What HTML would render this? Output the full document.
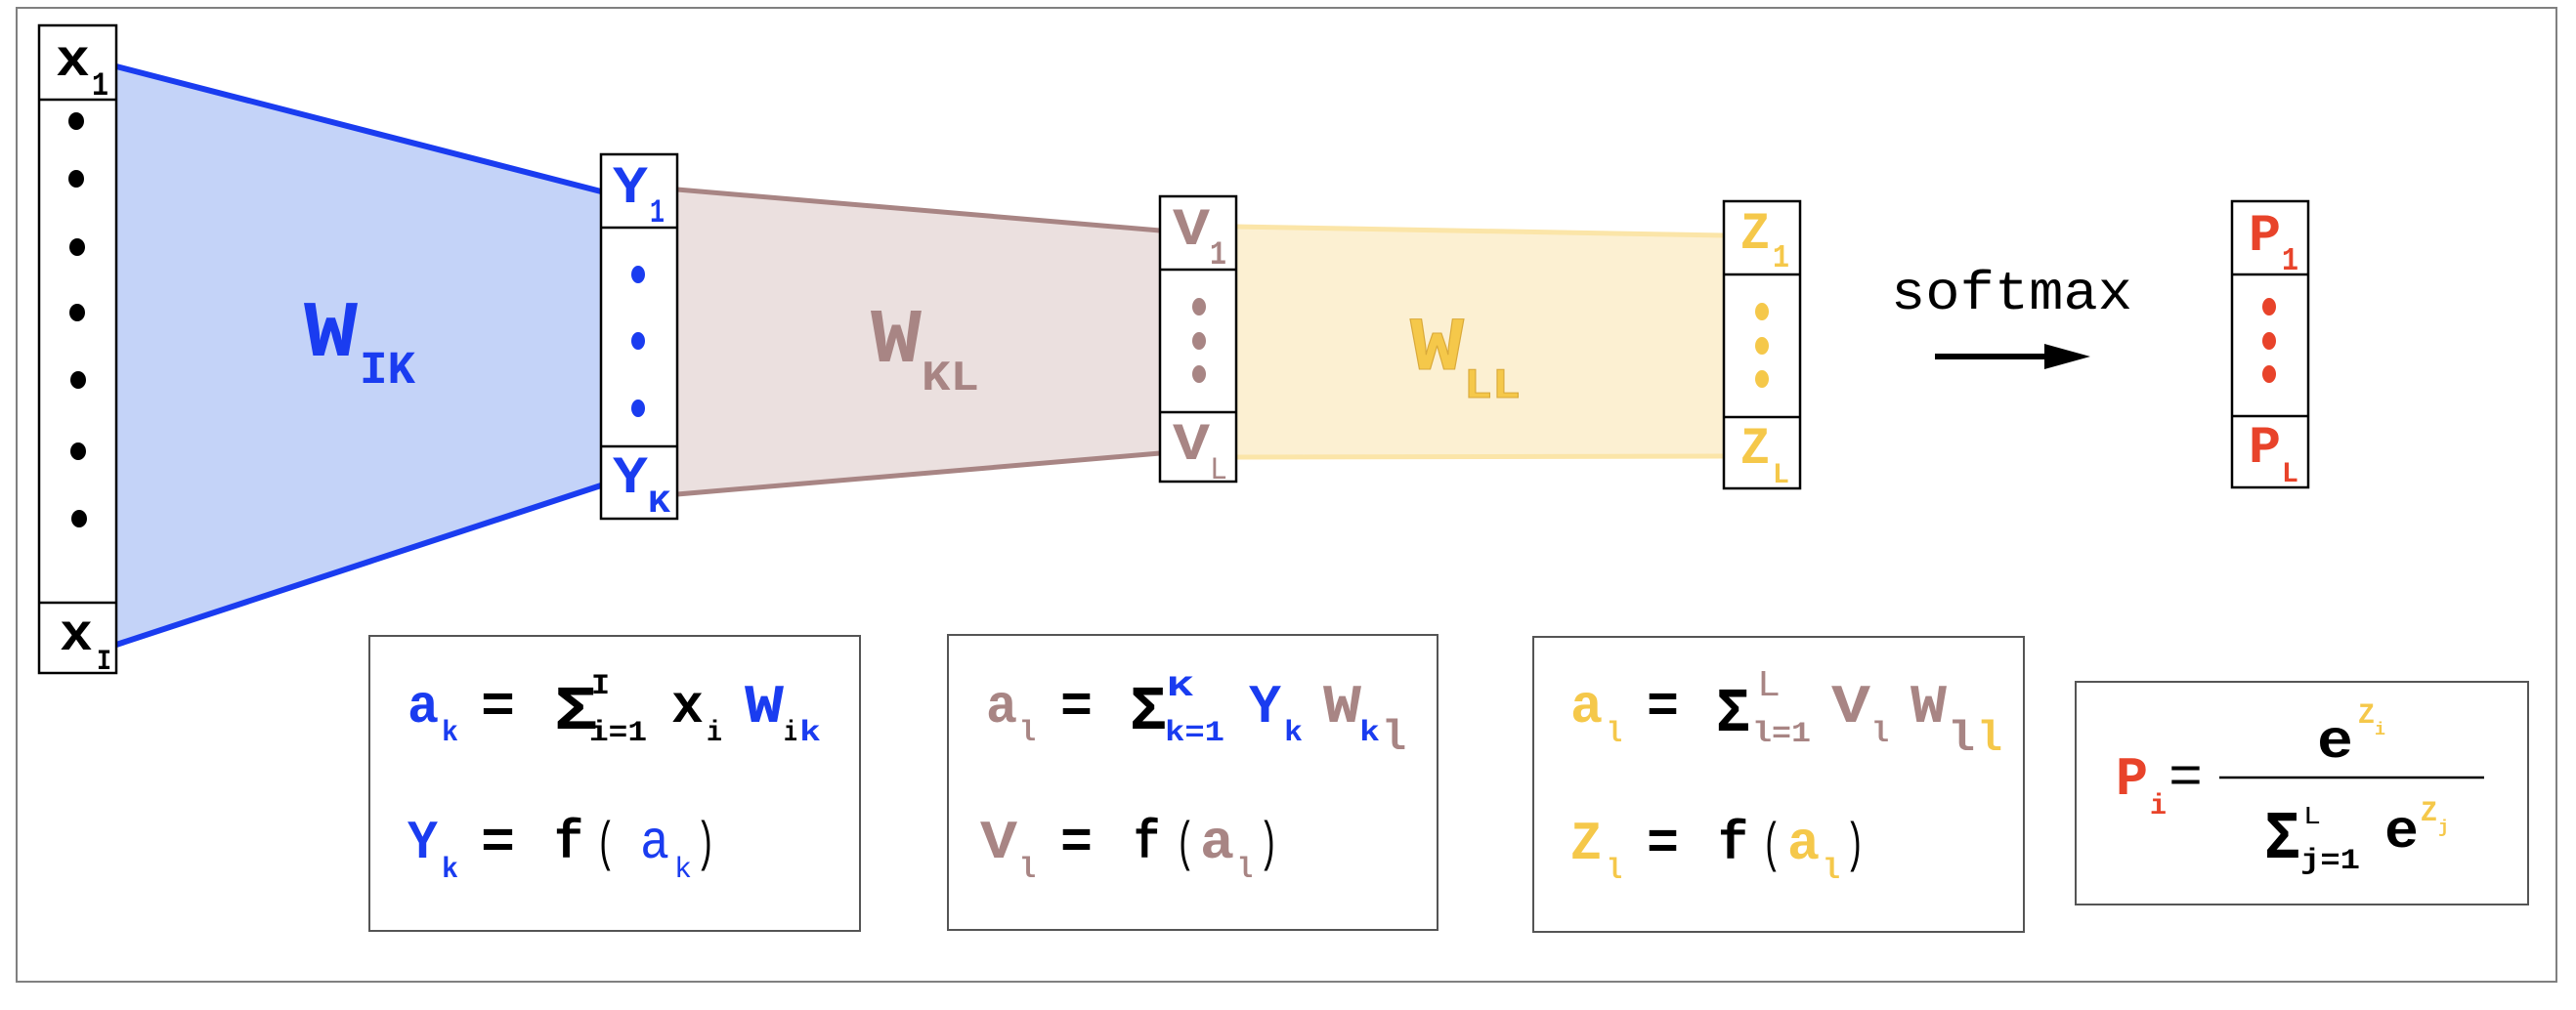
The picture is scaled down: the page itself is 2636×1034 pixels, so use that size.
<!DOCTYPE html>
<html><head><meta charset="utf-8"><style>
html,body{margin:0;padding:0;background:#fff;}
svg{display:block;}
text{font-family:"Liberation Mono","DejaVu Sans Mono",monospace;font-weight:bold;}
.n{font-weight:normal;}
</style></head><body>
<svg width="2636" height="1034" viewBox="0 0 2636 1034" xmlns="http://www.w3.org/2000/svg">
<rect x="17" y="8" width="2599" height="997" fill="#fff" stroke="#808080" stroke-width="2"/>

<!-- blue trapezoid -->
<polygon points="119,68 615,196 615,497 119,660" fill="#c4d3f8"/>
<line x1="119" y1="68" x2="615" y2="196" stroke="#1a3cf0" stroke-width="6"/>
<line x1="119" y1="660" x2="615" y2="497" stroke="#1a3cf0" stroke-width="6"/>
<!-- mauve trapezoid -->
<polygon points="693,194 1187,236 1187,464 693,506" fill="#ebe0df"/>
<line x1="693" y1="194" x2="1187" y2="236" stroke="#a88584" stroke-width="5"/>
<line x1="693" y1="506" x2="1187" y2="464" stroke="#a88584" stroke-width="5"/>
<!-- yellow band -->
<polygon points="1265,232 1764,241 1764,467 1265,468" fill="#fcf0d2"/>
<line x1="1265" y1="232" x2="1764" y2="241" stroke="#fbe5a8" stroke-width="5"/>
<line x1="1265" y1="468" x2="1764" y2="467" stroke="#fbe5a8" stroke-width="5"/>

<!-- x column -->
<g stroke="#000" stroke-width="2.5" fill="#fff">
<rect x="40" y="26" width="79" height="663"/>
<line x1="40" y1="102" x2="119" y2="102"/>
<line x1="40" y1="617" x2="119" y2="617"/>
<rect x="615" y="158" width="78" height="373"/>
<line x1="615" y1="233" x2="693" y2="233"/>
<line x1="615" y1="457" x2="693" y2="457"/>
<rect x="1187" y="201" width="78" height="292"/>
<line x1="1187" y1="276" x2="1265" y2="276"/>
<line x1="1187" y1="422" x2="1265" y2="422"/>
<rect x="1764" y="206" width="78" height="294"/>
<line x1="1764" y1="281" x2="1842" y2="281"/>
<line x1="1764" y1="427" x2="1842" y2="427"/>
<rect x="2284" y="206" width="78" height="293"/>
<line x1="2284" y1="281" x2="2362" y2="281"/>
<line x1="2284" y1="426" x2="2362" y2="426"/>
</g>
<g fill="#000">
<ellipse cx="78" cy="124" rx="8" ry="9"/><ellipse cx="78" cy="183" rx="8" ry="9"/>
<ellipse cx="79" cy="253" rx="8" ry="9"/><ellipse cx="79" cy="320" rx="8" ry="9"/>
<ellipse cx="80" cy="389" rx="8" ry="9"/><ellipse cx="80" cy="462" rx="8" ry="9"/>
<ellipse cx="81" cy="531" rx="8" ry="9"/>
</g>
<g fill="#1a3cf0"><ellipse cx="653" cy="281" rx="7" ry="9"/><ellipse cx="653" cy="349" rx="7" ry="9"/><ellipse cx="653" cy="418" rx="7" ry="9"/></g>
<g fill="#a88584"><ellipse cx="1227" cy="314" rx="7" ry="9"/><ellipse cx="1227" cy="349" rx="7" ry="9"/><ellipse cx="1227" cy="383" rx="7" ry="9"/></g>
<g fill="#f5c84a"><ellipse cx="1803" cy="319" rx="7" ry="9"/><ellipse cx="1803" cy="354" rx="7" ry="9"/><ellipse cx="1803" cy="388" rx="7" ry="9"/></g>
<g fill="#e8432a"><ellipse cx="2322" cy="314" rx="7" ry="9"/><ellipse cx="2322" cy="349" rx="7" ry="9"/><ellipse cx="2322" cy="383" rx="7" ry="9"/></g>

<!-- column labels -->
<text x="57" y="77" font-size="54" textLength="35" lengthAdjust="spacingAndGlyphs">x</text>
<text x="94" y="97" font-size="34" textLength="17" lengthAdjust="spacingAndGlyphs">1</text>
<text x="61" y="665" font-size="54" textLength="34" lengthAdjust="spacingAndGlyphs">x</text>
<text x="99" y="685" font-size="30" textLength="15" lengthAdjust="spacingAndGlyphs">I</text>

<g fill="#1a3cf0">
<text x="627" y="207" font-size="54" textLength="36" lengthAdjust="spacingAndGlyphs">Y</text>
<text x="665" y="227" font-size="34" textLength="15" lengthAdjust="spacingAndGlyphs">1</text>
<text x="627" y="504" font-size="54" textLength="36" lengthAdjust="spacingAndGlyphs">Y</text>
<text x="663" y="524" font-size="32" textLength="23" lengthAdjust="spacingAndGlyphs">K</text>
<text x="311" y="364" font-size="82" textLength="55" lengthAdjust="spacingAndGlyphs">W</text>
<text x="368" y="392" font-size="47" textLength="57" lengthAdjust="spacingAndGlyphs">IK</text>
</g>
<g fill="#a88584">
<text x="1200" y="250" font-size="54" textLength="38" lengthAdjust="spacingAndGlyphs">V</text>
<text x="1238" y="270" font-size="34" textLength="17" lengthAdjust="spacingAndGlyphs">1</text>
<text x="1200" y="470" font-size="54" textLength="38" lengthAdjust="spacingAndGlyphs">V</text>
<text x="1238" y="490" font-size="32" textLength="18" lengthAdjust="spacingAndGlyphs" class="n">L</text>
<text x="891" y="370" font-size="79" textLength="52" lengthAdjust="spacingAndGlyphs">W</text>
<text x="943" y="399" font-size="44" textLength="59" lengthAdjust="spacingAndGlyphs">KL</text>
</g>
<g fill="#f5c84a">
<text x="1781" y="254" font-size="54" textLength="30" lengthAdjust="spacingAndGlyphs">Z</text>
<text x="1814" y="273" font-size="33" textLength="17" lengthAdjust="spacingAndGlyphs">1</text>
<text x="1781" y="474" font-size="54" textLength="30" lengthAdjust="spacingAndGlyphs">Z</text>
<text x="1814" y="494" font-size="30" textLength="17" lengthAdjust="spacingAndGlyphs">L</text>
<text x="1443" y="378" font-size="78" textLength="55" lengthAdjust="spacingAndGlyphs" stroke="#d9a93a" stroke-width="1">W</text>
<text x="1498" y="407" font-size="44" textLength="58" lengthAdjust="spacingAndGlyphs" stroke="#d9a93a" stroke-width="1">LL</text>
</g>
<g fill="#e8432a">
<text x="2301" y="256" font-size="54" textLength="33" lengthAdjust="spacingAndGlyphs">P</text>
<text x="2335" y="276" font-size="33" textLength="17" lengthAdjust="spacingAndGlyphs">1</text>
<text x="2301" y="473" font-size="54" textLength="33" lengthAdjust="spacingAndGlyphs">P</text>
<text x="2335" y="493" font-size="30" textLength="17" lengthAdjust="spacingAndGlyphs">L</text>
</g>

<!-- softmax arrow -->
<text x="1935" y="316" font-size="56" class="n" textLength="247" lengthAdjust="spacingAndGlyphs">softmax</text>
<line x1="1980" y1="365" x2="2095" y2="365" stroke="#000" stroke-width="6"/>
<polygon points="2092,352 2139,365 2092,378" fill="#000"/>

<!-- formula boxes -->
<g fill="#fff" stroke="#555" stroke-width="2">
<rect x="378" y="651" width="502" height="302"/>
<rect x="970" y="650" width="501" height="302"/>
<rect x="1569" y="652" width="502" height="302"/>
<rect x="2124" y="698" width="463" height="228"/>
</g>

<!-- box1 -->
<g font-size="56">
<text x="417" y="739" fill="#1a3cf0" textLength="32" lengthAdjust="spacingAndGlyphs">a</text>
<text x="452" y="758" font-size="30" fill="#1a3cf0" textLength="17" lengthAdjust="spacingAndGlyphs">k</text>
<text x="492" y="739" textLength="35" lengthAdjust="spacingAndGlyphs">=</text>
<text x="567" y="746" font-size="64" textLength="45" lengthAdjust="spacingAndGlyphs">Σ</text>
<text x="605" y="710" font-size="30" textLength="19" lengthAdjust="spacingAndGlyphs">I</text>
<text x="603" y="758" font-size="30" textLength="59" lengthAdjust="spacingAndGlyphs">i=1</text>
<text x="687" y="739" textLength="33" lengthAdjust="spacingAndGlyphs">x</text>
<text x="723" y="758" font-size="30" textLength="16" lengthAdjust="spacingAndGlyphs">i</text>
<text x="762" y="739" fill="#1a3cf0" textLength="40" lengthAdjust="spacingAndGlyphs">W</text>
<text x="802" y="758" font-size="30" textLength="14" lengthAdjust="spacingAndGlyphs">i</text>
<text x="818" y="758" font-size="30" fill="#1a3cf0" textLength="22" lengthAdjust="spacingAndGlyphs">k</text>

<text x="417" y="878" fill="#1a3cf0" textLength="31" lengthAdjust="spacingAndGlyphs">Y</text>
<text x="452" y="898" font-size="30" fill="#1a3cf0" textLength="17" lengthAdjust="spacingAndGlyphs">k</text>
<text x="492" y="878" textLength="35" lengthAdjust="spacingAndGlyphs">=</text>
<text x="567" y="878" textLength="30" lengthAdjust="spacingAndGlyphs">f</text>
<text x="610" y="880" class="n" textLength="20" lengthAdjust="spacingAndGlyphs">(</text>
<text x="655" y="878" class="n" fill="#1a3cf0" textLength="30" lengthAdjust="spacingAndGlyphs">a</text>
<text x="690" y="898" class="n" font-size="30" fill="#1a3cf0" textLength="18" lengthAdjust="spacingAndGlyphs">k</text>
<text x="712" y="880" class="n" textLength="20" lengthAdjust="spacingAndGlyphs">)</text>
</g>

<!-- box2 -->
<g font-size="56">
<text x="1009" y="739" fill="#a88584" textLength="32" lengthAdjust="spacingAndGlyphs">a</text>
<text x="1043" y="758" font-size="30" fill="#a88584" textLength="17" lengthAdjust="spacingAndGlyphs">l</text>
<text x="1085" y="739" textLength="33" lengthAdjust="spacingAndGlyphs">=</text>
<text x="1156" y="746" font-size="64" textLength="38" lengthAdjust="spacingAndGlyphs">Σ</text>
<text x="1194" y="712" font-size="30" fill="#1a3cf0" textLength="27" lengthAdjust="spacingAndGlyphs">K</text>
<text x="1192" y="758" font-size="30" fill="#1a3cf0" textLength="61" lengthAdjust="spacingAndGlyphs">k=1</text>
<text x="1278" y="739" fill="#1a3cf0" textLength="33" lengthAdjust="spacingAndGlyphs">Y</text>
<text x="1314" y="758" font-size="30" fill="#1a3cf0" textLength="19" lengthAdjust="spacingAndGlyphs">k</text>
<text x="1354" y="739" fill="#a88584" textLength="39" lengthAdjust="spacingAndGlyphs">W</text>
<text x="1391" y="758" font-size="30" fill="#1a3cf0" textLength="21" lengthAdjust="spacingAndGlyphs">k</text>
<text x="1414" y="767" font-size="44" fill="#a88584" textLength="25" lengthAdjust="spacingAndGlyphs">l</text>

<text x="1003" y="878" fill="#a88584" textLength="38" lengthAdjust="spacingAndGlyphs">V</text>
<text x="1043" y="898" font-size="30" fill="#a88584" textLength="17" lengthAdjust="spacingAndGlyphs">l</text>
<text x="1085" y="878" textLength="33" lengthAdjust="spacingAndGlyphs">=</text>
<text x="1160" y="878" textLength="27" lengthAdjust="spacingAndGlyphs">f</text>
<text x="1203" y="880" class="n" textLength="20" lengthAdjust="spacingAndGlyphs">(</text>
<text x="1228" y="878" fill="#a88584" textLength="35" lengthAdjust="spacingAndGlyphs">a</text>
<text x="1266" y="898" font-size="30" fill="#a88584" textLength="16" lengthAdjust="spacingAndGlyphs">l</text>
<text x="1288" y="880" class="n" textLength="20" lengthAdjust="spacingAndGlyphs">)</text>
</g>

<!-- box3 -->
<g font-size="56">
<text x="1607" y="739" fill="#f5c84a" textLength="33" lengthAdjust="spacingAndGlyphs">a</text>
<text x="1644" y="759" font-size="30" fill="#f5c84a" textLength="16" lengthAdjust="spacingAndGlyphs">l</text>
<text x="1685" y="739" textLength="33" lengthAdjust="spacingAndGlyphs">=</text>
<text x="1756" y="748" font-size="64" textLength="35" lengthAdjust="spacingAndGlyphs">Σ</text>
<text x="1798" y="712" font-size="38" class="n" fill="#a88584" textLength="24" lengthAdjust="spacingAndGlyphs">L</text>
<text x="1793" y="759" font-size="30" fill="#a88584" textLength="60" lengthAdjust="spacingAndGlyphs">l=1</text>
<text x="1874" y="739" fill="#a88584" textLength="40" lengthAdjust="spacingAndGlyphs">V</text>
<text x="1915" y="759" font-size="30" fill="#a88584" textLength="18" lengthAdjust="spacingAndGlyphs">l</text>
<text x="1955" y="739" fill="#a88584" textLength="37" lengthAdjust="spacingAndGlyphs">W</text>
<text x="1993" y="768" font-size="44" fill="#a88584" textLength="28" lengthAdjust="spacingAndGlyphs">l</text>
<text x="2023" y="768" font-size="44" fill="#f5c84a" textLength="26" lengthAdjust="spacingAndGlyphs">l</text>

<text x="1607" y="879" fill="#f5c84a" textLength="32" lengthAdjust="spacingAndGlyphs">Z</text>
<text x="1644" y="899" font-size="30" fill="#f5c84a" textLength="16" lengthAdjust="spacingAndGlyphs">l</text>
<text x="1685" y="879" textLength="33" lengthAdjust="spacingAndGlyphs">=</text>
<text x="1758" y="879" textLength="31" lengthAdjust="spacingAndGlyphs">f</text>
<text x="1803" y="881" class="n" textLength="20" lengthAdjust="spacingAndGlyphs">(</text>
<text x="1829" y="879" fill="#f5c84a" textLength="33" lengthAdjust="spacingAndGlyphs">a</text>
<text x="1865" y="899" font-size="30" fill="#f5c84a" textLength="18" lengthAdjust="spacingAndGlyphs">l</text>
<text x="1888" y="881" class="n" textLength="20" lengthAdjust="spacingAndGlyphs">)</text>
</g>

<!-- box4 -->
<g font-size="56">
<text x="2165" y="813" fill="#e8432a" textLength="33" lengthAdjust="spacingAndGlyphs">P</text>
<text x="2200" y="833" font-size="30" fill="#e8432a" textLength="17" lengthAdjust="spacingAndGlyphs">i</text>
<text x="2219" y="812" class="n" textLength="35" lengthAdjust="spacingAndGlyphs">=</text>
<line x1="2271" y1="796" x2="2542" y2="796" stroke="#000" stroke-width="2.5"/>
<text x="2371" y="775" textLength="37" lengthAdjust="spacingAndGlyphs">e</text>
<text x="2413" y="740" font-size="30" fill="#f5c84a" textLength="17" lengthAdjust="spacingAndGlyphs">Z</text>
<text x="2430" y="752" font-size="18" fill="#f5c84a" textLength="11" lengthAdjust="spacingAndGlyphs">i</text>
<text x="2317" y="878" font-size="70" textLength="37" lengthAdjust="spacingAndGlyphs">Σ</text>
<text x="2357" y="843" font-size="26" class="n" textLength="18" lengthAdjust="spacingAndGlyphs">L</text>
<text x="2354" y="889" font-size="30" textLength="61" lengthAdjust="spacingAndGlyphs">j=1</text>
<text x="2440" y="867" textLength="35" lengthAdjust="spacingAndGlyphs">e</text>
<text x="2477" y="840" font-size="30" fill="#f5c84a" textLength="17" lengthAdjust="spacingAndGlyphs">Z</text>
<text x="2495" y="852" font-size="18" fill="#f5c84a" textLength="11" lengthAdjust="spacingAndGlyphs">j</text>
</g>
</svg>
</body></html>
